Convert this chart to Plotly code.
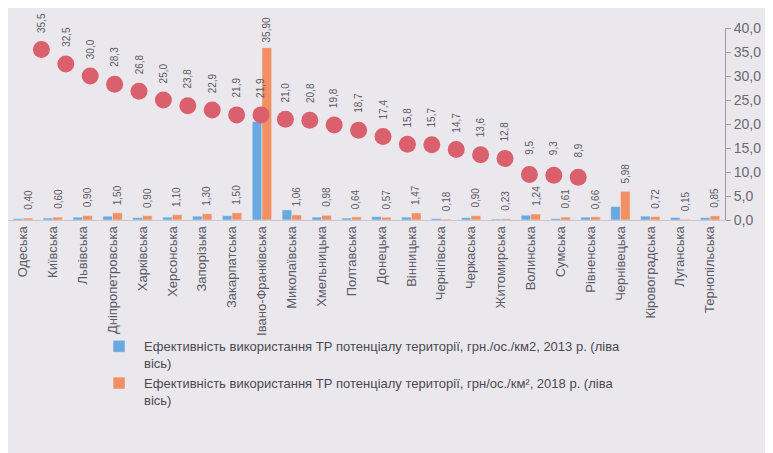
import plotly.graph_objects as go

# ---- data ----
regions = ["Одеська", "Київська", "Львівська", "Дніпропетровська", "Харківська",
           "Херсонська", "Запорізька", "Закарпатська", "Івано-Франківська",
           "Миколаївська", "Хмельницька", "Полтавська", "Донецька", "Вінницька",
           "Чернігівська", "Черкаська", "Житомирська", "Волинська", "Сумська",
           "Рівненська", "Чернівецька", "Кіровоградська", "Луганська", "Тернопільська"]
eff_2013 = [0.3, 0.4, 0.6, 0.8, 0.5, 0.6, 0.8, 0.9, 20.5,
            2.1, 0.6, 0.4, 0.7, 0.6, 0.3, 0.5, 0.2, 1.0, 0.3,
            0.6, 2.8, 0.8, 0.5, 0.5]
eff_2018 = [0.40, 0.60, 0.90, 1.50, 0.90, 1.10, 1.30, 1.50, 35.9,
            1.06, 0.98, 0.64, 0.57, 1.47, 0.18, 0.90, 0.23, 1.24, 0.61,
            0.66, 5.98, 0.72, 0.15, 0.85]
# third series (right axis)
dots = [35.5, 32.5, 30.0, 28.3, 26.8, 25.0, 23.8, 22.9, 21.9, 21.9,
        21.0, 20.8, 19.8, 18.7, 17.4, 15.8, 15.7, 14.7, 13.6, 12.8,
        9.5, 9.3, 8.9]
y_ticks = [0, 5, 10, 15, 20, 25, 30, 35, 40]

name_2013 = "Ефективність використання ТР потенціалу території, грн./ос./км2, 2013 р. (ліва<br>вісь)"
name_2018 = "Ефективність використання ТР потенціалу території, грн/ос./км², 2018 р. (ліва<br>вісь)"

BLUE = "#6aa8e0"
ORANGE = "#f29064"
RED = "#d9606c"
TXT = "#5c5a66"
BG = "#eae8ed"

xi = list(range(len(regions)))
xj = list(range(len(dots)))

fig = go.Figure()
fig.add_trace(go.Bar(x=xi, y=eff_2013, name=name_2013, marker_color=BLUE,
                     xaxis="x", yaxis="y"))
fig.add_trace(go.Bar(x=xi, y=eff_2018, name=name_2018, marker_color=ORANGE,
                     xaxis="x", yaxis="y"))
fig.add_trace(go.Scatter(x=xj, y=dots, mode="markers", showlegend=False,
                         marker=dict(size=17, color=RED),
                         xaxis="x2", yaxis="y2", cliponaxis=False))

bargap = 0.35
half = (1 - bargap) / 4
annotations = []
for i, v in zip(xi, eff_2018):
    annotations.append(dict(x=i + half, y=v, xref="x", yref="y",
                            text=f"{v:.2f}".replace(".", ","), textangle=-90,
                            showarrow=False, yshift=18,
                            font=dict(size=10, color=TXT, family="Liberation Sans")))
for j, v in zip(xj, dots):
    annotations.append(dict(x=j, y=v, xref="x2", yref="y2",
                            text=f"{v:.1f}".replace(".", ","), textangle=-90,
                            showarrow=False, yshift=27,
                            font=dict(size=10, color=TXT, family="Liberation Sans")))

fig.update_layout(
    width=773, height=453,
    margin=dict(l=0, r=56, t=20, b=241),
    paper_bgcolor=BG, plot_bgcolor=BG,
    separators=", ",
    barmode="group", bargap=bargap, bargroupgap=0,
    font=dict(family="Liberation Sans", color=TXT),
    xaxis=dict(range=[-0.5, 23.5], tickmode="array", tickvals=xi, ticktext=regions,
               tickangle=-90, tickfont=dict(size=13, color=TXT),
               showgrid=False, zeroline=False, showline=True,
               linecolor="#c9c7cc", ticks=""),
    xaxis2=dict(range=[-1.369, 28.016], overlaying="x", visible=False),
    yaxis=dict(range=[0, 40], visible=False),
    yaxis2=dict(range=[0, 40], overlaying="y", side="right",
                tickvals=y_ticks, tickformat=".1f",
                tickfont=dict(size=14, color="#6a6870"),
                showgrid=False, zeroline=False, showline=True,
                linecolor="#9a98a0", ticks="outside", ticklen=5,
                tickcolor="#9a98a0"),
    legend=dict(x=0.12, y=-0.58, xanchor="left", yanchor="top",
                bgcolor="rgba(0,0,0,0)", font=dict(size=13, color="#4a4852"),
                tracegroupgap=8, valign="top", itemwidth=40),
    annotations=annotations,
)

fig.write_html("out.html")
